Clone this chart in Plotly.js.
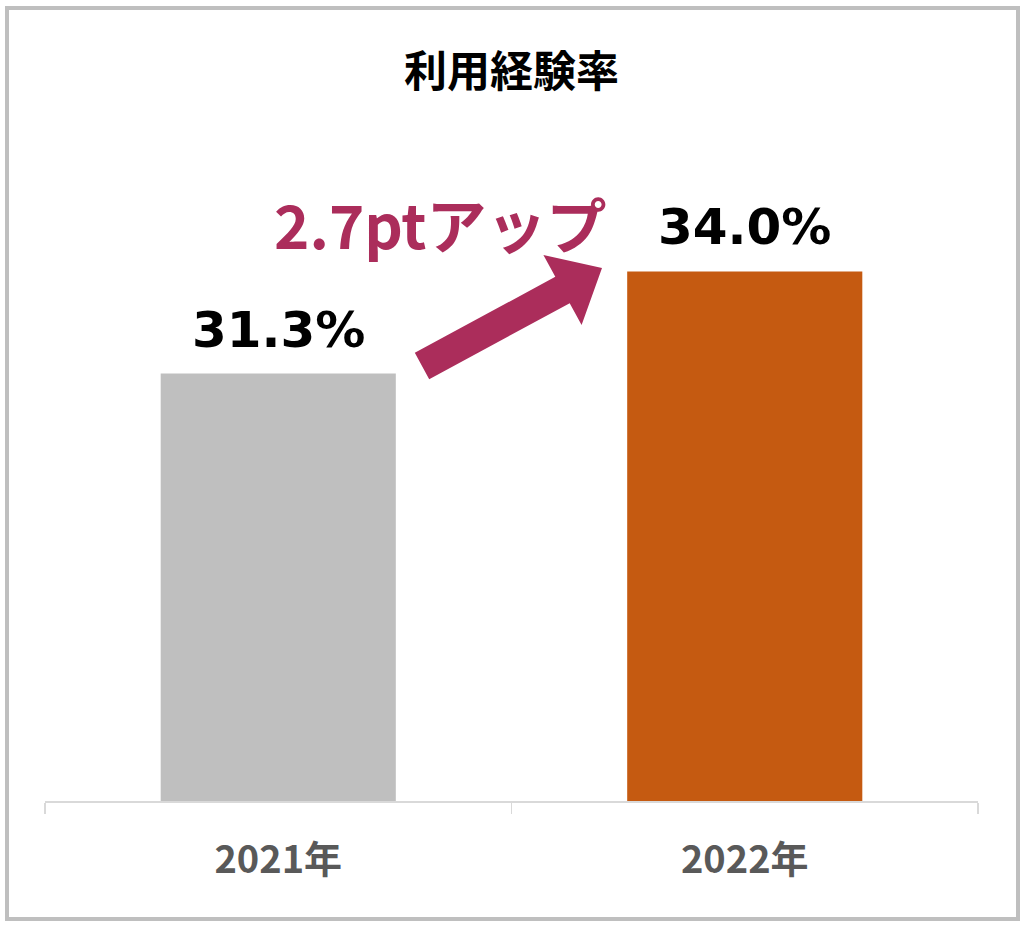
<!DOCTYPE html>
<html>
<head>
<meta charset="utf-8">
<script src="https://cdn.plot.ly/plotly-3.0.1.min.js"></script>
<style>
  html, body { margin: 0; padding: 0; background: #ffffff; }
  #wrap { position: relative; width: 1024px; height: 927px; }
  #chart { position: absolute; left: 0; top: 0; width: 1024px; height: 927px; }
  #frame { position: absolute; left: 5px; top: 6px; width: 1007px; height: 907px;
           border: 4px solid #bfbfbf; pointer-events: none; }
</style>
</head>
<body>
<div id="wrap">
  <div id="chart"></div>
  <div id="frame"></div>
</div>
<script>
// ---- data ----
const categories = ['2021年', '2022年'];
const values = [31.3, 34.0];
const valueLabels = ['31.3%', '34.0%'];
const barColors = ['#bfbfbf', '#c55a11'];
const chartTitle = '利用経験率';
const changeLabel = '2.7ptアップ';

// ---- layout helpers (pixel -> paper) ----
const M = {l: 45, r: 46, t: 130, b: 126};
const W = 1024, H = 927;
const PW = W - M.l - M.r, PH = H - M.t - M.b;
const px = x => (x - M.l) / PW;
const py = y => (H - M.b - y) / PH;

// arrow polygon (decoration) in pixel space
const arrowPts = [[414.8,352.8],[555.3,276.8],[543.4,254.9],[602,268],[581.6,325.1],[569.7,303.2],[429.2,379.2]];
const arrowPath = 'M ' + arrowPts.map(p => px(p[0]).toFixed(5) + ',' + py(p[1]).toFixed(5)).join(' L ') + ' Z';

const trace = {
  type: 'bar',
  x: categories,
  y: values,
  marker: {color: barColors, line: {width: 0}},
  hoverinfo: 'skip'
};

const annotations = categories.map((c, i) => ({
  x: c, y: values[i], xref: 'x', yref: 'y',
  text: valueLabels[i],
  showarrow: false,
  xanchor: 'center', yanchor: 'bottom', yshift: 13,
  font: {family: 'DejaVu Sans', size: 50, color: '#000000', weight: 'bold'}
}));
annotations.push({
  x: px(440), y: py(222), xref: 'paper', yref: 'paper',
  text: changeLabel, showarrow: false,
  xanchor: 'center', yanchor: 'middle',
  font: {family: 'Noto Sans CJK JP', size: 60, color: '#ab2d5b', weight: 'bold'}
});

const layout = {
  width: W, height: H,
  margin: M,
  paper_bgcolor: '#ffffff', plot_bgcolor: '#ffffff',
  showlegend: false,
  bargap: 0.496,
  title: {
    text: chartTitle,
    x: 0.5, xref: 'paper', xanchor: 'center',
    y: 1 - 72 / H, yref: 'container', yanchor: 'middle',
    font: {family: 'Noto Sans CJK JP', size: 43, color: '#000000', weight: 'bold'}
  },
  xaxis: {
    type: 'category',
    showline: true, linecolor: '#d9d9d9', linewidth: 1.5,
    ticks: 'outside', tickson: 'boundaries', ticklen: 11, tickwidth: 1.5, tickcolor: '#d9d9d9',
    showgrid: false, zeroline: false,
    tickfont: {family: 'Noto Sans CJK JP', size: 38, color: '#595959', weight: 'bold'},
    ticklabelstandoff: 25
  },
  yaxis: {
    range: [20, 37.74],
    visible: false, showgrid: false, zeroline: false
  },
  shapes: [{
    type: 'path', xref: 'paper', yref: 'paper',
    path: arrowPath,
    fillcolor: '#ab2d5b', line: {width: 0}
  }],
  annotations: annotations
};

Plotly.newPlot('chart', [trace], layout, {displayModeBar: false, staticPlot: true});
</script>
</body>
</html>
